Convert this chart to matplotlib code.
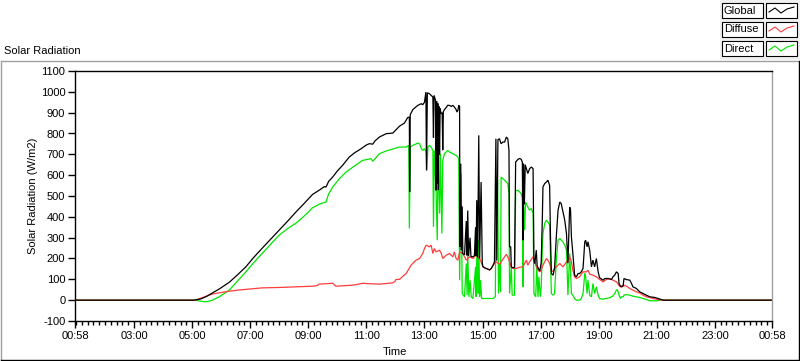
import matplotlib
matplotlib.use("Agg")
import matplotlib.pyplot as plt
from matplotlib.ticker import FixedLocator, MultipleLocator
from matplotlib.patches import Rectangle
from matplotlib.lines import Line2D

plt.rcParams['font.family'] = ['Liberation Sans', 'DejaVu Sans']

# time in hours of day, values in W/m2
global_pts = [
    (0.97, 0), (5.07, 0), (5.30, 6), (5.47, 16), (5.69, 34), (5.95, 55), (6.28, 86),
    (6.55, 120), (6.85, 160), (7.12, 205), (7.41, 249), (7.70, 292), (8.00, 336),
    (8.30, 381), (8.58, 424), (8.87, 466), (9.15, 508), (9.40, 530), (9.55, 545),
    (9.61, 543), (9.70, 570), (9.84, 591), (10.00, 620), (10.18, 647), (10.41, 687),
    (10.60, 708), (10.82, 727), (11.00, 745), (11.10, 751), (11.22, 749), (11.30, 765),
    (11.45, 783), (11.68, 799), (11.91, 802), (12.14, 835), (12.31, 850), (12.42, 876),
    (12.48, 879), (12.49, 519), (12.51, 890), (12.60, 915), (12.77, 935), (12.89, 943),
    (12.94, 938), (13.00, 950), (13.05, 999), (13.07, 623), (13.10, 995), (13.17, 991),
    (13.23, 983), (13.29, 975), (13.31, 780), (13.33, 983), (13.38, 960), (13.40, 527),
    (13.42, 955), (13.44, 560), (13.46, 945), (13.48, 530), (13.50, 930), (13.52, 700),
    (13.54, 920), (13.57, 895), (13.61, 900), (13.63, 720), (13.65, 905), (13.69, 915),
    (13.75, 925), (13.80, 935), (13.86, 935), (13.92, 930), (13.98, 935), (14.03, 927),
    (14.09, 915), (14.12, 903), (14.15, 910), (14.18, 935), (14.21, 930), (14.22, 256),
    (14.25, 655), (14.27, 240), (14.30, 450), (14.32, 224), (14.38, 218), (14.44, 380),
    (14.46, 215), (14.49, 430), (14.52, 212), (14.57, 300), (14.60, 210), (14.67, 208),
    (14.72, 214), (14.76, 350), (14.78, 212), (14.80, 480), (14.83, 205), (14.87, 791),
    (14.90, 200), (14.95, 567), (14.99, 180), (15.01, 162), (15.07, 155), (15.13, 152),
    (15.24, 146), (15.30, 152), (15.36, 166), (15.41, 184), (15.46, 775), (15.49, 190),
    (15.53, 770), (15.58, 775), (15.64, 751), (15.70, 759), (15.76, 759), (15.82, 783),
    (15.87, 775), (15.91, 719), (15.93, 256), (15.97, 256), (15.99, 160), (16.05, 155),
    (16.10, 158), (16.14, 663), (16.22, 676), (16.28, 680), (16.33, 676), (16.37, 663),
    (16.39, 288), (16.41, 655), (16.44, 460), (16.47, 650), (16.56, 608), (16.62, 631),
    (16.68, 639), (16.74, 631), (16.77, 192), (16.80, 175), (16.85, 240), (16.88, 165),
    (16.93, 150), (16.97, 140), (17.02, 180), (17.06, 400), (17.08, 543), (17.14, 560),
    (17.20, 567), (17.25, 576), (17.31, 551), (17.34, 300), (17.37, 128), (17.43, 120),
    (17.48, 155), (17.54, 304), (17.60, 432), (17.66, 471), (17.71, 463), (17.77, 423),
    (17.83, 384), (17.89, 320), (17.94, 177), (18.00, 447), (18.03, 432), (18.06, 304),
    (18.11, 224), (18.17, 120), (18.23, 112), (18.29, 128), (18.34, 128), (18.40, 136),
    (18.46, 152), (18.52, 280), (18.55, 288), (18.60, 256), (18.63, 280), (18.69, 240),
    (18.75, 160), (18.80, 192), (18.86, 160), (18.92, 200), (18.98, 136), (19.03, 108),
    (19.15, 96), (19.21, 104), (19.32, 104), (19.44, 99), (19.49, 112), (19.55, 120),
    (19.61, 136), (19.67, 128), (19.70, 80), (19.75, 67), (19.84, 67), (19.87, 104),
    (19.95, 99), (20.07, 96), (20.13, 80), (20.18, 64), (20.30, 56), (20.41, 40),
    (20.53, 32), (20.64, 24), (20.76, 16), (20.93, 13), (21.05, 8), (21.22, 0), (24.97, 0),
]

diffuse_pts = [
    (0.97, 0), (5.10, 0), (5.30, 10), (5.47, 19), (5.69, 29), (6.00, 37), (6.28, 43),
    (6.55, 48), (6.85, 52), (7.12, 56), (7.41, 59), (8.00, 61), (8.58, 64), (9.15, 67),
    (9.30, 70), (9.38, 77), (9.60, 79), (9.84, 81), (9.95, 67), (10.20, 69), (10.53, 72),
    (10.70, 76), (10.87, 81), (11.10, 79), (11.45, 77), (11.70, 80), (11.91, 83),
    (11.98, 90), (12.02, 99), (12.14, 100), (12.37, 128), (12.54, 168), (12.71, 192),
    (12.83, 200), (12.94, 224), (13.00, 248), (13.06, 264), (13.17, 256), (13.23, 264),
    (13.29, 224), (13.34, 248), (13.40, 232), (13.52, 240), (13.58, 224), (13.63, 200),
    (13.75, 216), (13.86, 224), (13.98, 208), (14.03, 232), (14.09, 200), (14.15, 192),
    (14.20, 224), (14.26, 232), (14.32, 224), (14.44, 192), (14.55, 208), (14.67, 200),
    (14.78, 216), (14.90, 200), (14.95, 184), (15.01, 160), (15.13, 152), (15.24, 144),
    (15.30, 152), (15.36, 168), (15.47, 184), (15.59, 172), (15.70, 196), (15.82, 220),
    (15.87, 208), (15.93, 184), (15.99, 160), (16.05, 152), (16.16, 152), (16.28, 158),
    (16.39, 160), (16.45, 176), (16.51, 192), (16.56, 168), (16.62, 184), (16.74, 208),
    (16.79, 192), (16.85, 160), (16.91, 144), (16.97, 136), (17.02, 144), (17.08, 168),
    (17.20, 200), (17.25, 192), (17.31, 176), (17.37, 144), (17.43, 136), (17.48, 152),
    (17.54, 160), (17.66, 176), (17.77, 160), (17.89, 184), (17.94, 192), (18.00, 210),
    (18.06, 184), (18.11, 144), (18.17, 112), (18.23, 104), (18.34, 112), (18.46, 136),
    (18.58, 136), (18.63, 144), (18.69, 125), (18.80, 120), (18.92, 112), (19.03, 100),
    (19.15, 88), (19.26, 99), (19.38, 104), (19.49, 96), (19.61, 88), (19.72, 67),
    (19.79, 61), (19.84, 72), (19.96, 67), (20.07, 56), (20.18, 48), (20.30, 40),
    (20.41, 35), (20.53, 24), (20.64, 16), (20.76, 13), (20.87, 8), (21.04, 3),
    (21.22, 0), (24.97, 0),
]

direct_pts = [
    (0.97, 0), (5.10, 0), (5.30, -5), (5.47, -8), (5.60, -4), (5.70, 0), (5.93, 16),
    (6.28, 48), (6.55, 90), (6.85, 136), (7.12, 180), (7.41, 224), (7.70, 268),
    (8.00, 312), (8.30, 345), (8.58, 370), (8.87, 405), (9.15, 444), (9.40, 462),
    (9.61, 471), (9.70, 510), (9.84, 543), (10.07, 583), (10.30, 615), (10.60, 645),
    (10.87, 671), (11.16, 679), (11.22, 667), (11.45, 703), (11.68, 716), (11.90, 725),
    (12.14, 735), (12.37, 735), (12.46, 743), (12.48, 344), (12.51, 735), (12.60, 743),
    (12.77, 754), (12.83, 751), (12.89, 727), (12.94, 719), (13.00, 727), (13.06, 711),
    (13.08, 623), (13.12, 735), (13.17, 743), (13.23, 735), (13.29, 719), (13.31, 352),
    (13.34, 719), (13.40, 527), (13.44, 288), (13.47, 703), (13.52, 416), (13.55, 703),
    (13.60, 320), (13.63, 671), (13.69, 703), (13.75, 711), (13.80, 719), (13.86, 711),
    (13.98, 703), (14.09, 695), (14.15, 687), (14.18, 679), (14.21, 96), (14.26, 607),
    (14.30, 32), (14.38, 16), (14.44, 176), (14.47, 24), (14.49, 224), (14.53, 16),
    (14.57, 96), (14.61, 16), (14.67, 8), (14.76, 160), (14.78, 16), (14.82, 368),
    (14.85, 32), (14.87, 288), (14.90, 16), (14.93, 96), (14.97, 8), (15.13, 8),
    (15.36, 8), (15.44, 16), (15.47, 591), (15.52, 576), (15.55, 32), (15.59, 176),
    (15.62, 40), (15.64, 591), (15.70, 583), (15.76, 576), (15.82, 567), (15.87, 559),
    (15.91, 512), (15.93, 32), (15.99, 160), (16.02, 24), (16.10, 24), (16.14, 527),
    (16.22, 527), (16.28, 519), (16.33, 512), (16.37, 488), (16.39, 64), (16.41, 480),
    (16.45, 336), (16.48, 471), (16.56, 447), (16.62, 432), (16.68, 440), (16.74, 416),
    (16.77, 32), (16.83, 16), (16.87, 160), (16.91, 16), (16.94, 112), (16.99, 16),
    (17.02, 64), (17.06, 256), (17.08, 320), (17.14, 368), (17.20, 384), (17.25, 376),
    (17.31, 360), (17.37, 32), (17.43, 24), (17.48, 32), (17.54, 192), (17.60, 288),
    (17.66, 296), (17.71, 288), (17.77, 280), (17.83, 264), (17.89, 240), (17.94, 24),
    (18.00, 224), (18.03, 144), (18.06, 32), (18.11, 24), (18.17, 8), (18.23, 0),
    (18.34, 0), (18.40, 8), (18.46, 32), (18.52, 128), (18.55, 112), (18.60, 32),
    (18.63, 96), (18.69, 24), (18.75, 16), (18.80, 80), (18.86, 32), (18.92, 64),
    (18.98, 24), (19.03, 8), (19.15, 5), (19.26, 8), (19.38, 12), (19.49, 20),
    (19.55, 32), (19.61, 48), (19.64, 51), (19.67, 40), (19.70, 24), (19.75, 8),
    (19.78, 16), (19.84, 16), (19.87, 24), (19.95, 27), (20.07, 24), (20.18, 19),
    (20.30, 16), (20.41, 13), (20.53, 8), (20.64, 3), (20.76, -3), (20.99, -3),
    (21.10, 0), (24.97, 0),
]

series_names = ["Global", "Diffuse", "Direct"]
series_colors = ["#000000", "#ff3c3c", "#00e600"]

x_tick_pos = [0.967, 3, 5, 7, 9, 11, 13, 15, 17, 19, 21, 23, 24.967]
x_tick_labels = ["00:58", "03:00", "05:00", "07:00", "09:00", "11:00", "13:00",
                 "15:00", "17:00", "19:00", "21:00", "23:00", "00:58"]
y_ticks = list(range(-100, 1101, 100))

W, H = 800, 361


def fx(px):
    return px / W


def fy(py):
    return 1 - py / H


fig = plt.figure(figsize=(W / 100, H / 100), dpi=100)
fig.patch.set_facecolor("white")

ax = fig.add_axes([fx(75), fy(321), fx(772) - fx(75), fy(71) - fy(321)])

# direct first, global on top
for pts, col in [(direct_pts, series_colors[2]), (diffuse_pts, series_colors[1]),
                 (global_pts, series_colors[0])]:
    t, v = zip(*pts)
    ax.plot(t, v, color=col, lw=0.9, solid_joinstyle="miter")

ax.set_xlim(0.967, 24.967)
ax.set_ylim(-100, 1100)
ax.xaxis.set_major_locator(FixedLocator(x_tick_pos))
ax.set_xticklabels(x_tick_labels)
ax.xaxis.set_minor_locator(MultipleLocator(0.2))
ax.set_yticks(y_ticks)
ax.set_yticklabels([str(y) for y in y_ticks])
ax.tick_params(axis="both", which="major", length=5, width=1, labelsize=8, pad=2, color="black")
ax.tick_params(axis="x", which="minor", length=3, width=1, color="black")
ax.tick_params(axis="y", pad=2)

for side in ["left", "top", "bottom"]:
    ax.spines[side].set_color("black")
    ax.spines[side].set_linewidth(1)
ax.spines["right"].set_color("#a0a0a0")
ax.spines["right"].set_linewidth(1)

fig.text(fx(33), fy(196), "Solar Radiation (W/m2)", rotation=90, ha="center", va="center", fontsize=8)
fig.text(fx(395), fy(352), "Time", ha="center", va="center", fontsize=8)
fig.text(fx(4), fy(51), "Solar Radiation", ha="left", va="center", fontsize=8)

# outer panel frame
fig.add_artist(Line2D([fx(0.5), fx(798)], [fy(61), fy(61)], color="#a0a0a0", lw=1))
fig.add_artist(Line2D([fx(0.5), fx(0.5)], [fy(61), fy(360)], color="#a0a0a0", lw=1))
fig.add_artist(Line2D([fx(0.5), fx(798.5)], [fy(360), fy(360)], color="black", lw=1))
fig.add_artist(Line2D([fx(798.5), fx(798.5)], [fy(61), fy(360)], color="black", lw=1))

# legend in the top right corner
fig.add_artist(Rectangle((fx(720), fy(60)), fx(800) - fx(720), fy(0) - fy(60),
                         facecolor="#f0f0f0", edgecolor="none", transform=fig.transFigure))
for i, (name, col) in enumerate(zip(series_names, series_colors)):
    top = 3 + i * 19
    fig.add_artist(Rectangle((fx(722), fy(top + 15)), fx(763) - fx(722), fy(top) - fy(top + 15),
                             facecolor="white", edgecolor="black", lw=0.8, transform=fig.transFigure))
    fig.add_artist(Rectangle((fx(766), fy(top + 15)), fx(797) - fx(766), fy(top) - fy(top + 15),
                             facecolor="white", edgecolor="black", lw=0.8, transform=fig.transFigure))
    fig.text(fx(724), fy(top + 7.5), name, ha="left", va="center", fontsize=8)
    zx = [769, 775, 781, 787, 794]
    zy = [top + 9, top + 5, top + 10, top + 6, top + 4]
    fig.add_artist(Line2D([fx(x) for x in zx], [fy(y) for y in zy], color=col, lw=0.8))

fig.savefig("out.png", dpi=100, facecolor="white")
